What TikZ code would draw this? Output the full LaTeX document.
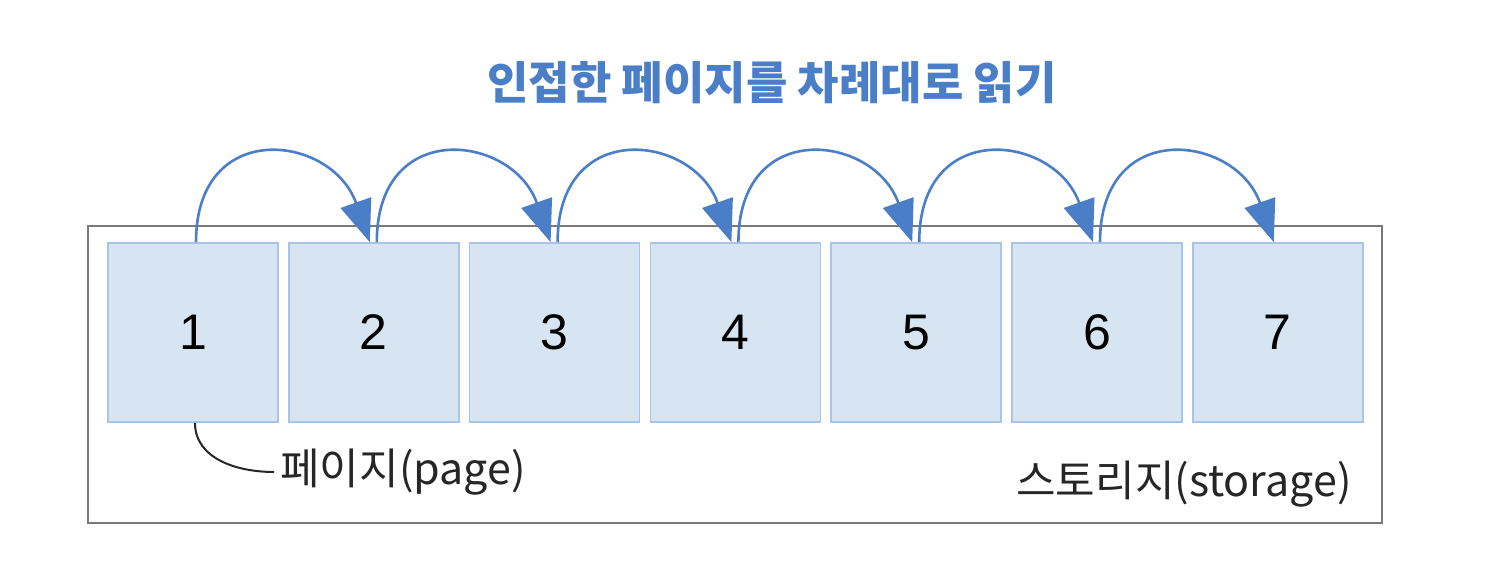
\documentclass[tikz,border=0pt]{standalone}
\usepackage{fontspec}
\setmainfont{Noto Sans CJK KR}
\newfontfamily\digitfont{Liberation Sans}
\usetikzlibrary{arrows.meta}
\definecolor{pagefill}{HTML}{D7E5F3}
\definecolor{pageline}{HTML}{A8C4E6}
\definecolor{arrowblue}{HTML}{4A7FC8}
\definecolor{boxgray}{HTML}{7A7A7A}
\tikzset{
  pagebox/.style={draw=pageline, fill=pagefill, line width=0.8pt,
    minimum width=85pt, minimum height=89.5pt, inner sep=0pt,
    font=\digitfont\fontsize{25}{25}\selectfont, text=black},
  hop/.style={draw=arrowblue, line width=1.3pt,
    -{Triangle[length=21pt,width=16pt]}},
  storagebox/.style={draw=boxgray, line width=1.1pt},
  labeltext/.style={font=\fontsize{21.5}{21.5}\selectfont, inner sep=0pt, text=black!85},
  titletext/.style={font=\bfseries\fontsize{22.5}{22.5}\selectfont, text=arrowblue, inner sep=0pt}
}
\begin{document}
\begin{tikzpicture}[x=0.5pt,y=-0.5pt]
\useasboundingbox (0,0) rectangle (1494,572);
\node[titletext] (title) at (772,83) {인접한 페이지를 차례대로 읽기};
\node[storagebox, minimum width=647pt, minimum height=148.5pt, inner sep=0pt] (storage) at (735,374.5) {};
\foreach \i in {1,...,7} {
  \node[pagebox] (p\i) at ({193+180.8*(\i-1)},332.5) {\i};
}
\foreach \i/\j in {1/2,2/3,3/4,4/5,5/6,6/7} {
  \draw[hop] ([xshift=1.5pt]p\i.north) .. controls +(0,-125) and +(-38,-108) .. ([xshift=-2pt]p\j.north);
}
\node[labeltext, anchor=west] (pagelabel) at (280,472) {페이지(page)};
\draw[black!85, line width=1pt] ([xshift=1pt]p1.south) to[out=-90,in=180] ([xshift=-3pt]pagelabel.west);
\node[labeltext, anchor=east] (storagelabel) at (1352,484) {스토리지(storage)};
\end{tikzpicture}
\end{document}
